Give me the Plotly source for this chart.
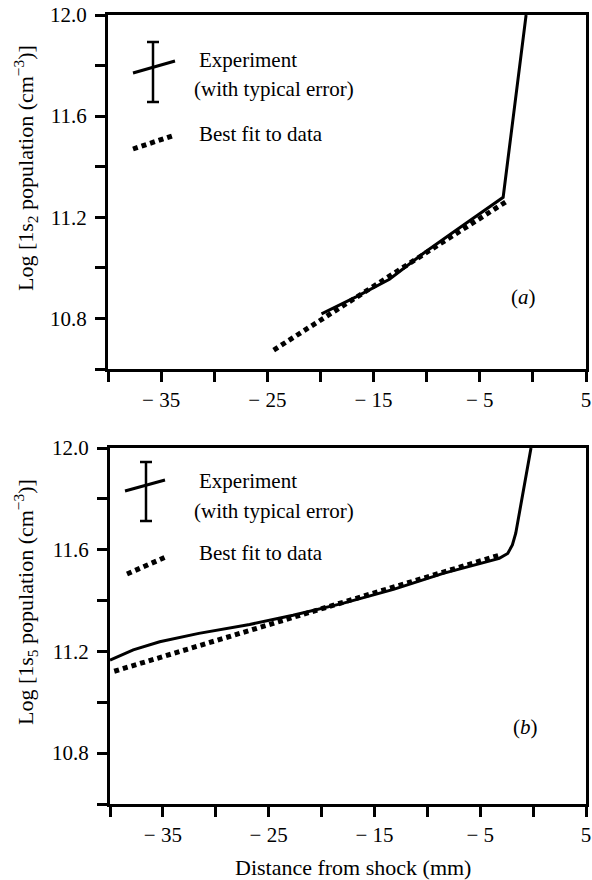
import plotly.graph_objects as go

# ---------------- data ----------------
# Panel (a): 1s2 population
exp_a_x = [-19.9, -16.6, -13.5, -10.3, -7.2, -2.8, -0.64]
exp_a_y = [10.818, 10.886, 10.955, 11.058, 11.150, 11.279, 12.0]
fit_a_x = [-24.4, -2.4]
fit_a_y = [10.675, 11.265]

# Panel (b): 1s5 population
exp_b_x = [-40.0, -37.8, -35.3, -31.6, -26.8, -22.7, -18.0, -13.2, -8.5, -3.8, -3.2, -2.4, -1.96, -1.64, -0.2]
exp_b_y = [11.166, 11.206, 11.238, 11.271, 11.306, 11.342, 11.389, 11.444, 11.507, 11.560, 11.566, 11.585, 11.619, 11.665, 12.0]
fit_b_x = [-39.6, -3.3]
fit_b_y = [11.122, 11.577]

x_tickvals = [-40, -35, -30, -25, -20, -15, -10, -5, 0, 5]
x_ticktext = ["", "\u2212 35", "", "\u2212 25", "", "\u2212 15", "", "\u2212 5", "", "5"]
y_tickvals = [10.6, 10.8, 11.0, 11.2, 11.4, 11.6, 11.8, 12.0]
y_ticktext = ["", "10.8", "", "11.2", "", "11.6", "", "12.0"]

legend_exp = "Experiment"
legend_err = "(with typical error)"
legend_fit = "Best fit to data"
panel_labels = ["(<i>a</i>)", "(<i>b</i>)"]
y_titles = ["Log [1s<sub>2</sub> population (cm<sup>\u22123</sup>)]",
            "Log [1s<sub>5</sub> population (cm<sup>\u22123</sup>)]"]
x_title = "Distance from shock (mm)"

# ---------------- layout constants ----------------
W, H = 592, 880
OFF = 0  # body margin removed by post_script below
FONT = "Liberation Serif"
panels = {
    "a": dict(xa="x", ya="y", left=108, right=586, top=15, bottom=369),
    "b": dict(xa="x2", ya="y2", left=110, right=586, top=448, bottom=804),
}

fig = go.Figure()

line_solid = dict(color="black", width=3)
line_dot = dict(color="black", width=5, dash="5px,4px")

fig.add_trace(go.Scatter(x=exp_a_x, y=exp_a_y, mode="lines", line=line_solid,
                         xaxis="x", yaxis="y", showlegend=False))
fig.add_trace(go.Scatter(x=fit_a_x, y=fit_a_y, mode="lines", line=line_dot,
                         xaxis="x", yaxis="y", showlegend=False))
fig.add_trace(go.Scatter(x=exp_b_x, y=exp_b_y, mode="lines", line=line_solid,
                         xaxis="x2", yaxis="y2", showlegend=False))
fig.add_trace(go.Scatter(x=fit_b_x, y=fit_b_y, mode="lines", line=line_dot,
                         xaxis="x2", yaxis="y2", showlegend=False))


def axis_common():
    return dict(showline=True, linewidth=3, linecolor="black", mirror=True,
                ticks="outside", ticklen=10, tickwidth=2.5, tickcolor="black",
                showgrid=False, zeroline=False, automargin=False,
                ticklabeloverflow="allow",
                tickfont=dict(family=FONT, size=21, color="black"))


xa = axis_common()
xa.update(range=[-40, 5], tickmode="array", tickvals=x_tickvals, ticktext=x_ticktext)
ya = axis_common()
ya.update(range=[10.6, 12.0], tickmode="array", tickvals=y_tickvals, ticktext=y_ticktext,
          ticklabelstandoff=4)


def px2paper(px, py):
    return (px - OFF) / W, 1 - (py - OFF) / H


layout_axes = {}
for key, p in panels.items():
    sx = "" if p["xa"] == "x" else "2"
    x0, y0 = px2paper(p["left"], p["bottom"])
    x1, y1 = px2paper(p["right"], p["top"])
    ax = dict(xa); ax.update(domain=[x0, x1], anchor="y" + sx)
    ay = dict(ya); ay.update(domain=[y0, y1], anchor="x" + sx)
    layout_axes["xaxis" + sx] = ax
    layout_axes["yaxis" + sx] = ay

fig.update_layout(**layout_axes)


def dom(p, px, py):
    return ((px - p["left"]) / (p["right"] - p["left"]),
            (p["bottom"] - py) / (p["bottom"] - p["top"]))


shapes = []
annotations = []
legend_px = {
    "a": dict(bar_x=153, bar_top=42, bar_bot=102, slant=((133, 73), (175, 61)),
              dots=((133, 149), (175, 135)), exp=(197, 60), err=(192, 89), fit=(197, 134),
              label=(523, 297)),
    "b": dict(bar_x=146, bar_top=462, bar_bot=521, slant=((125, 491), (165, 480)),
              dots=((127, 574), (168, 556)), exp=(197, 481), err=(192, 511), fit=(197, 553),
              label=(525, 727)),
}
for i, (key, p) in enumerate(panels.items()):
    L = legend_px[key]
    xr = p["xa"] + " domain"
    yr = p["ya"] + " domain"
    def seg(a, b, **st):
        x0, y0 = dom(p, *a); x1, y1 = dom(p, *b)
        d = dict(type="line", xref=xr, yref=yr, x0=x0, y0=y0, x1=x1, y1=y1,
                 line=dict(color="black", width=st.get("width", 2.5), dash=st.get("dash", "solid")))
        shapes.append(d)
    bx = L["bar_x"]
    seg((bx, L["bar_top"]), (bx, L["bar_bot"]), width=2.5)
    seg((bx - 6, L["bar_top"]), (bx + 6, L["bar_top"]), width=2.5)
    seg((bx - 6, L["bar_bot"]), (bx + 6, L["bar_bot"]), width=2.5)
    seg(L["slant"][0], L["slant"][1], width=3)
    seg(L["dots"][0], L["dots"][1], width=5, dash="5px,4px")
    for txt, pos in ((legend_exp, L["exp"]), (legend_err, L["err"]), (legend_fit, L["fit"])):
        x, y = dom(p, *pos)
        annotations.append(dict(text=txt, xref=xr, yref=yr, x=x, y=y, xanchor="left",
                                yanchor="middle", showarrow=False,
                                font=dict(family=FONT, size=21, color="black")))
    x, y = dom(p, *L["label"])
    annotations.append(dict(text=panel_labels[i], xref=xr, yref=yr, x=x, y=y, xanchor="center",
                            yanchor="middle", showarrow=False,
                            font=dict(family=FONT, size=21, color="black")))

for txt, (cx, cy) in ((y_titles[0], (25, 168)), (y_titles[1], (25, 602))):
    x, y = px2paper(cx, cy)
    annotations.append(dict(text=txt, xref="paper", yref="paper", x=x, y=y,
                            textangle=-90, showarrow=False, xanchor="center", yanchor="middle",
                            font=dict(family=FONT, size=22, color="black")))
x, y = px2paper(353, 867)
annotations.append(dict(text=x_title, xref="paper", yref="paper", x=x, y=y,
                        showarrow=False, xanchor="center", yanchor="middle",
                        font=dict(family=FONT, size=22, color="black")))

fig.update_layout(width=W, height=H, margin=dict(l=0, r=0, t=0, b=0),
                  paper_bgcolor="white", plot_bgcolor="white",
                  shapes=shapes, annotations=annotations, showlegend=False,
                  font=dict(family=FONT, color="black"))

fig.write_html("out.html", config={"displayModeBar": False},
               post_script="document.body.style.margin='0px';document.body.style.overflow='hidden';")
